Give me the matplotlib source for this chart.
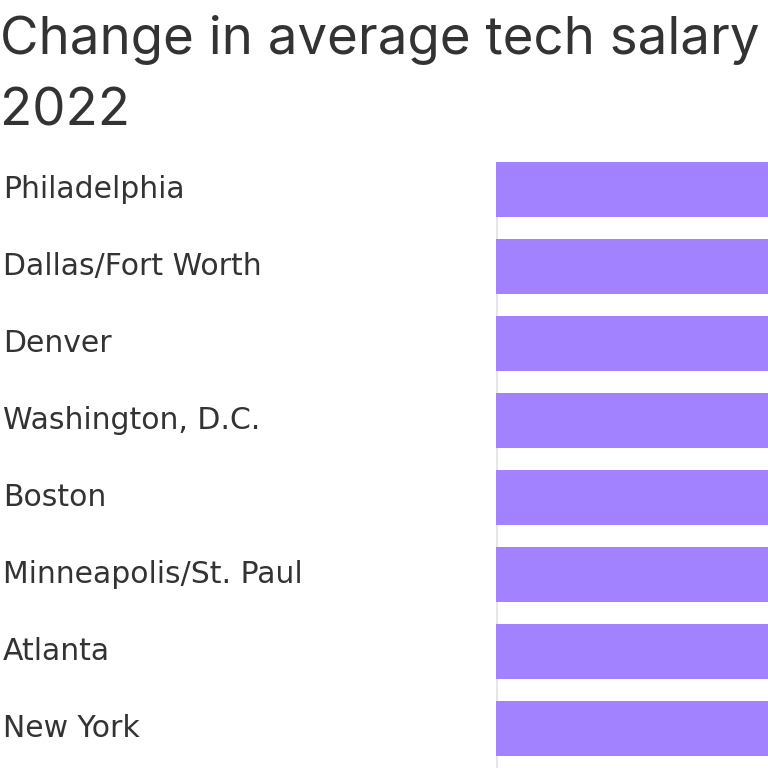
import matplotlib
matplotlib.use("Agg")
import matplotlib.pyplot as plt
import matplotlib.transforms as mtransforms

cities = ["Philadelphia", "Dallas/Fort Worth", "Denver", "Washington, D.C.",
          "Boston", "Minneapolis/St. Paul", "Atlanta", "New York"]
# Values (percent change) — bars run past the visible right edge in the reference
values = [11.4, 9.9, 9.4, 8.8, 8.1, 7.6, 7.2, 6.7]

plt.rcParams['font.family'] = ['Inter', 'DejaVu Sans']

fig = plt.figure(figsize=(7.68, 7.68), dpi=100)
ax = fig.add_axes([496/768, 0, 1 - 496/768, 1 - 162/768])

ypos = list(range(len(cities)))
ax.barh(ypos, values, height=0.714, color="#a282ff", edgecolor="none", zorder=2)
ax.set_ylim(7.51, -0.357)
ax.set_xlim(0, 5.5)
ax.axvline(0, color="#e6e6e6", lw=2.2, zorder=1)
ax.set_xticks([])
ax.set_yticks([])
for s in ax.spines.values():
    s.set_visible(False)

trans = mtransforms.blended_transform_factory(fig.transFigure, ax.transData)
for y, c in zip(ypos, cities):
    fig.text(3/768, y, c, transform=trans, ha="left", va="center",
             fontsize=21.5, color="#333333", family=['DejaVu Sans'])

fig.text(0, 1 - 54/768, "Change in average tech salary", ha="left", va="baseline",
         fontsize=38, color="#333333")
fig.text(0, 1 - 125/768, "2022", ha="left", va="baseline",
         fontsize=38, color="#333333")

fig.savefig("out.png", dpi=100)
